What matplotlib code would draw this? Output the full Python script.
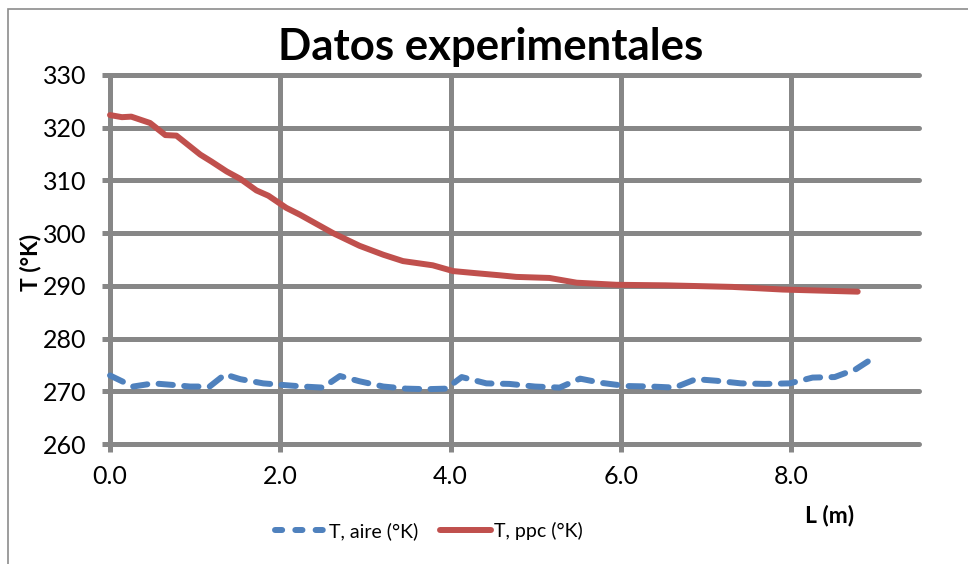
import matplotlib
matplotlib.use("Agg")
import matplotlib.pyplot as plt
from matplotlib.patches import Rectangle
from matplotlib.lines import Line2D

# ---- data ----
L_ppc = [0.0, 0.14, 0.25, 0.47, 0.65, 0.78, 1.06, 1.19, 1.37, 1.53, 1.72, 1.86, 2.07, 2.23,
         2.62, 2.93, 3.21, 3.44, 3.79, 4.03, 4.30, 4.58, 4.77, 5.16, 5.48, 5.95, 6.53,
         7.31, 7.90, 8.78]
T_ppc = [322.4, 322.0, 322.1, 320.9, 318.6, 318.5, 314.9, 313.6, 311.7, 310.3, 308.1, 307.1,
         304.8, 303.5, 300.0, 297.6, 295.9, 294.7, 293.9, 292.8, 292.4, 292.0, 291.7, 291.5,
         290.6, 290.2, 290.1, 289.8, 289.3, 288.9]

L_aire = [0.0, 0.27, 0.51, 0.74, 0.94, 1.17, 1.35, 1.53, 1.80, 2.03, 2.27, 2.50, 2.70, 2.93,
          3.21, 3.48, 3.72, 3.95, 4.13, 4.42, 4.69, 4.99, 5.28, 5.52, 5.77, 6.06, 6.36, 6.63,
          6.88, 7.12, 7.41, 7.69, 7.98, 8.25, 8.51, 8.76, 8.98]
T_aire = [273.0, 270.9, 271.5, 271.2, 270.9, 270.9, 273.2, 272.3, 271.5, 271.2, 270.9, 270.7,
          272.9, 271.9, 270.9, 270.5, 270.4, 270.5, 272.7, 271.5, 271.4, 270.9, 270.7, 272.4,
          271.6, 271.0, 270.9, 270.7, 272.3, 272.0, 271.5, 271.4, 271.5, 272.6, 272.7, 274.2,
          276.5]

x_ticks = [0.0, 2.0, 4.0, 6.0, 8.0]
x_tick_labels = ["0.0", "2.0", "4.0", "6.0", "8.0"]
y_ticks = [260, 270, 280, 290, 300, 310, 320, 330]

title = "Datos experimentales"
xlabel = "L (m)"
ylabel = "T (°K)"
labels = ["T, aire (°K)", "T, ppc (°K)"]

# ---- styling ----
FONT = "Lato"
plt.rcParams["font.family"] = [FONT, "DejaVu Sans"]
W, H = 968, 564
fig = plt.figure(figsize=(W / 100, H / 100), dpi=100)

GRID = "#878787"
BLUE = "#4F81BD"
RED = "#C0504D"

ax = fig.add_axes([110 / W, 1 - 444 / H, (919 - 110) / W, (444 - 75) / H])
ax.set_xlim(0, 9.5)
ax.set_ylim(260, 330)
for s in ax.spines.values():
    s.set_visible(False)

ax.set_xticks(x_ticks)
ax.set_xticklabels(x_tick_labels)
ax.set_yticks(y_ticks)
ax.tick_params(axis="both", direction="out", length=6, width=3.6, color=GRID,
               labelsize=18, labelcolor="black")
ax.tick_params(axis="y", pad=11)
ax.tick_params(axis="x", pad=9)
ax.grid(True, color=GRID, linewidth=3.6, solid_capstyle="round")
ax.set_axisbelow(True)
for gl in ax.xaxis.get_gridlines() + ax.yaxis.get_gridlines():
    gl.set_clip_on(False)
    gl.set_solid_capstyle("round")

ln_a, = ax.plot(L_aire, T_aire, color=BLUE, linewidth=4.3, linestyle=(0, (2.4, 1.9)),
                dash_capstyle="round", solid_joinstyle="round", dash_joinstyle="round",
                label=labels[0], clip_on=False, zorder=3)
ln_p, = ax.plot(L_ppc, T_ppc, color=RED, linewidth=4.3, solid_capstyle="round",
                solid_joinstyle="round", label=labels[1], clip_on=False, zorder=3)

fig.text(491 / W, 1 - 60 / H, title, ha="center", va="baseline",
         fontsize=31.5, fontweight="bold")
fig.text(31 / W, 1 - 262 / H, ylabel, ha="center", va="center", rotation=90,
         fontsize=16.5, fontweight="bold")
fig.text(830 / W, 1 - 515 / H, xlabel, ha="center", va="center",
         fontsize=16.5, fontweight="bold")

h_a = Line2D([], [], color=BLUE, linewidth=4.3, linestyle=(0, (1.2, 2.2)),
             dash_capstyle="round")
h_p = Line2D([], [], color=RED, linewidth=4.3, solid_capstyle="round")
fig.legend([h_a, h_p], labels, loc="center", bbox_to_anchor=(429 / W, 1 - 531 / H),
           ncol=2, frameon=False, fontsize=14, handlelength=2.6, handletextpad=0.2,
           columnspacing=1.1, borderpad=0, borderaxespad=0)

fig.add_artist(Rectangle((8 / W, -0.1), 1.2, (H - 9) / H + 0.1, transform=fig.transFigure,
                         fill=False, edgecolor="#8C8C8C", linewidth=1.2, clip_on=False))

fig.savefig("out.png", dpi=100, facecolor="white")
